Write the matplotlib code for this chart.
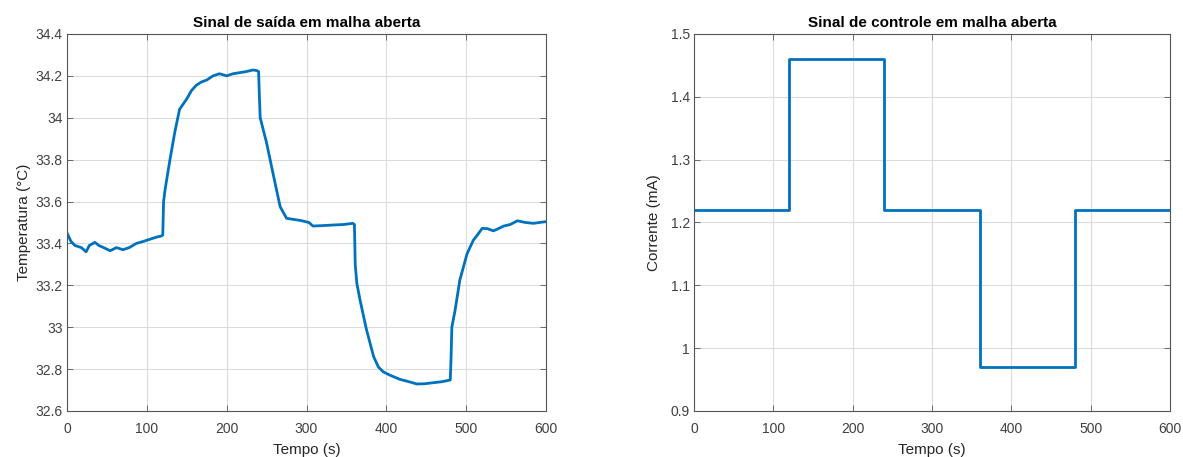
import matplotlib.pyplot as plt
import numpy as np

plt.rcParams['font.family'] = ['Liberation Sans', 'DejaVu Sans']

# temperature readings (s, degC)
tempo_saida = [0, 5, 10, 18, 24, 28, 35, 40, 46, 54, 62, 70, 78, 87, 96, 104, 112,
               118, 120, 121, 123, 129, 135, 141, 150, 156, 162, 168, 175, 183,
               191, 200, 208, 216, 224, 233, 238, 240, 241, 242, 246, 250, 258,
               267, 275, 283, 292, 303, 308, 320, 334, 346, 358, 360, 361, 363,
               367, 375, 384, 390, 396, 405, 417, 428, 438, 448, 459, 470, 480,
               481, 482, 486, 492, 501, 509, 514, 520, 527, 534, 540, 547, 555,
               564, 574, 584, 592, 600]
temperatura = [33.45, 33.41, 33.39, 33.38, 33.36, 33.39, 33.405, 33.39, 33.38,
               33.365, 33.38, 33.37, 33.38, 33.40, 33.41, 33.42, 33.43, 33.435,
               33.44, 33.60, 33.66, 33.80, 33.93, 34.04, 34.09, 34.13, 34.155,
               34.17, 34.18, 34.20, 34.21, 34.20, 34.21, 34.215, 34.22, 34.228,
               34.225, 34.22, 34.10, 34.00, 33.94, 33.88, 33.735, 33.575, 33.52,
               33.515, 33.51, 33.50, 33.483, 33.485, 33.488, 33.49, 33.496,
               33.49, 33.30, 33.21, 33.13, 32.99, 32.86, 32.81, 32.787, 32.77,
               32.751, 32.74, 32.729, 32.73, 32.735, 32.74, 32.748, 32.85, 33.0,
               33.08, 33.225, 33.35, 33.416, 33.44, 33.472, 33.47, 33.46, 33.47,
               33.483, 33.49, 33.508, 33.50, 33.496, 33.50, 33.504]

# control current steps (s, mA)
tempo_controle = [0, 120, 120, 240, 240, 360, 360, 480, 480, 600]
corrente = [1.22, 1.22, 1.46, 1.46, 1.22, 1.22, 0.97, 0.97, 1.22, 1.22]

azul = '#0072BD'
cinza = '#404040'

fig = plt.figure(figsize=(11.83, 4.57), dpi=100)
ax1 = fig.add_axes([0.0566, 0.1007, 0.405, 0.825])
ax2 = fig.add_axes([0.5866, 0.1007, 0.4024, 0.825])


def estilo(ax):
    ax.set_xlim(0, 600)
    ax.set_xticks(np.arange(0, 601, 100))
    ax.grid(True, color='#dcdcdc', linewidth=0.8)
    ax.set_axisbelow(True)
    ax.tick_params(direction='in', top=True, right=True, labelsize=10,
                   colors='#555555', labelcolor=cinza, length=4, width=0.6)
    ax.tick_params(axis='x', pad=8)
    ax.tick_params(axis='y', pad=3)
    for s in ax.spines.values():
        s.set_color('#555555')
        s.set_linewidth(0.8)


ax1.plot(tempo_saida, temperatura, color=azul, linewidth=2)
estilo(ax1)
ax1.set_ylim(32.6, 34.4)
ax1.set_yticks(np.arange(32.6, 34.41, 0.2))
ax1.set_yticklabels(['32.6', '32.8', '33', '33.2', '33.4', '33.6', '33.8',
                     '34', '34.2', '34.4'])
ax1.set_title('Sinal de saída em malha aberta', fontsize=11, fontweight='bold',
              pad=5)
ax1.set_xlabel('Tempo (s)', fontsize=11, color='#262626', labelpad=5)
ax1.set_ylabel('Temperatura (°C)', fontsize=11, color='#262626', labelpad=3)

ax2.plot(tempo_controle, corrente, color=azul, linewidth=2)
estilo(ax2)
ax2.set_ylim(0.9, 1.5)
ax2.set_yticks(np.arange(0.9, 1.51, 0.1))
ax2.set_yticklabels(['0.9', '1', '1.1', '1.2', '1.3', '1.4', '1.5'])
ax2.set_title('Sinal de controle em malha aberta', fontsize=11,
              fontweight='bold', pad=5)
ax2.set_xlabel('Tempo (s)', fontsize=11, color='#262626', labelpad=5)
ax2.set_ylabel('Corrente (mA)', fontsize=11, color='#262626', labelpad=7)

fig.savefig('out.png', dpi=100)
